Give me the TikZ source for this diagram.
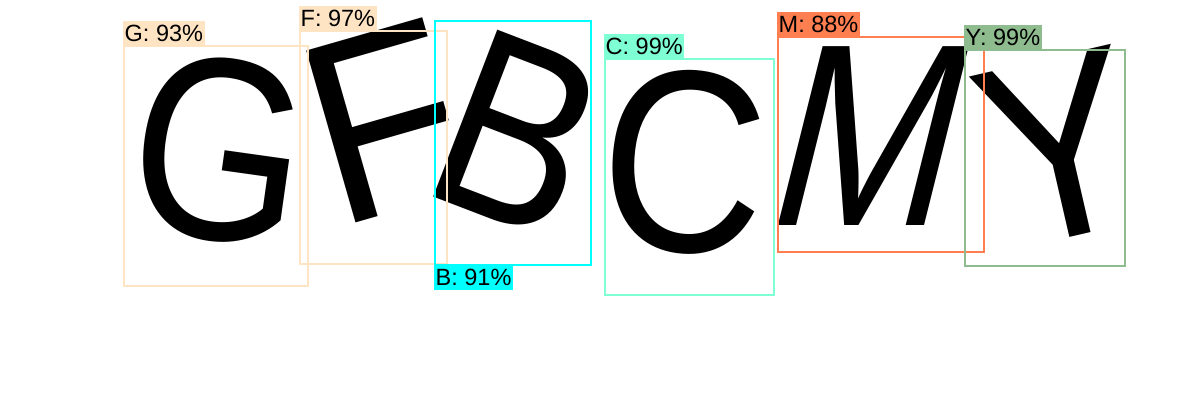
\documentclass[tikz,border=0pt]{standalone}
\usepackage{fontspec}
\setmainfont{Liberation Sans}
\usetikzlibrary{positioning}
\definecolor{bisque}{HTML}{FFE4C4}
\definecolor{aqua}{HTML}{00FFFF}
\definecolor{aquamarine}{HTML}{7FFFD4}
\definecolor{coral}{HTML}{FF7F50}
\definecolor{seagreen}{HTML}{8FBC8F}
\tikzset{
  glyph/.style={
    % the captcha letters
    inner sep=0pt,
    font=\fontsize{260}{260}\selectfont,
    text=black},
  hit/.style={
    % detection box
    draw=#1, line width=2pt},
  tag/.style={
    % score label
    fill=#1, inner xsep=1.5pt, inner ysep=0pt,
    minimum height=25pt, text depth=0pt,
    font=\fontsize{23.5}{23.5}\selectfont}}

\begin{document}
\begin{tikzpicture}[x=1pt,y=-1pt]
	\useasboundingbox (0,0) rectangle (1200,420);
	% Letters
	\node[glyph,rotate=-8,xscale=0.86] (lg) at (220,150) {G};
	\node[glyph,rotate=16,xscale=0.95] (lf) at (384,122) {F};
	\node[glyph,rotate=-21,xscale=0.86] (lb) at (518,134) {B};
	\node[glyph,rotate=-4,xscale=0.88] (lc) at (684,162) {C};
	\node[glyph,xslant=0.25,xscale=0.84] (lm) at (874,136) {M};
	\node[glyph,rotate=13,xscale=0.9] (ly) at (1060,148) {Y};
	% Boxes
	\draw[hit=bisque] (124,46) rectangle (308,286) coordinate (bg);
	\draw[hit=bisque] (300,31) rectangle (447,264) coordinate (bf);
	\draw[hit=aqua] (435,21) rectangle (591,265) coordinate (bb);
	\draw[hit=aquamarine] (605,59) rectangle (774,295) coordinate (bc);
	\draw[hit=coral] (778,37) rectangle (984,252) coordinate (bm);
	\draw[hit=seagreen] (965,50) rectangle (1125,266) coordinate (by);
	% Labels
	\node[tag=bisque,anchor=south west] (tg) at (123,46) {G: 93\%};
	\node[tag=bisque,anchor=south west] (tf) at (299,31) {F: 97\%};
	\node[tag=aqua,anchor=north west] (tb) at (434,265) {B: 91\%};
	\node[tag=aquamarine,anchor=south west] (tc) at (604,59) {C: 99\%};
	\node[tag=coral,anchor=south west] (tm) at (777,37) {M: 88\%};
	\node[tag=seagreen,anchor=south west] (ty) at (964,50) {Y: 99\%};
\end{tikzpicture}
\end{document}
